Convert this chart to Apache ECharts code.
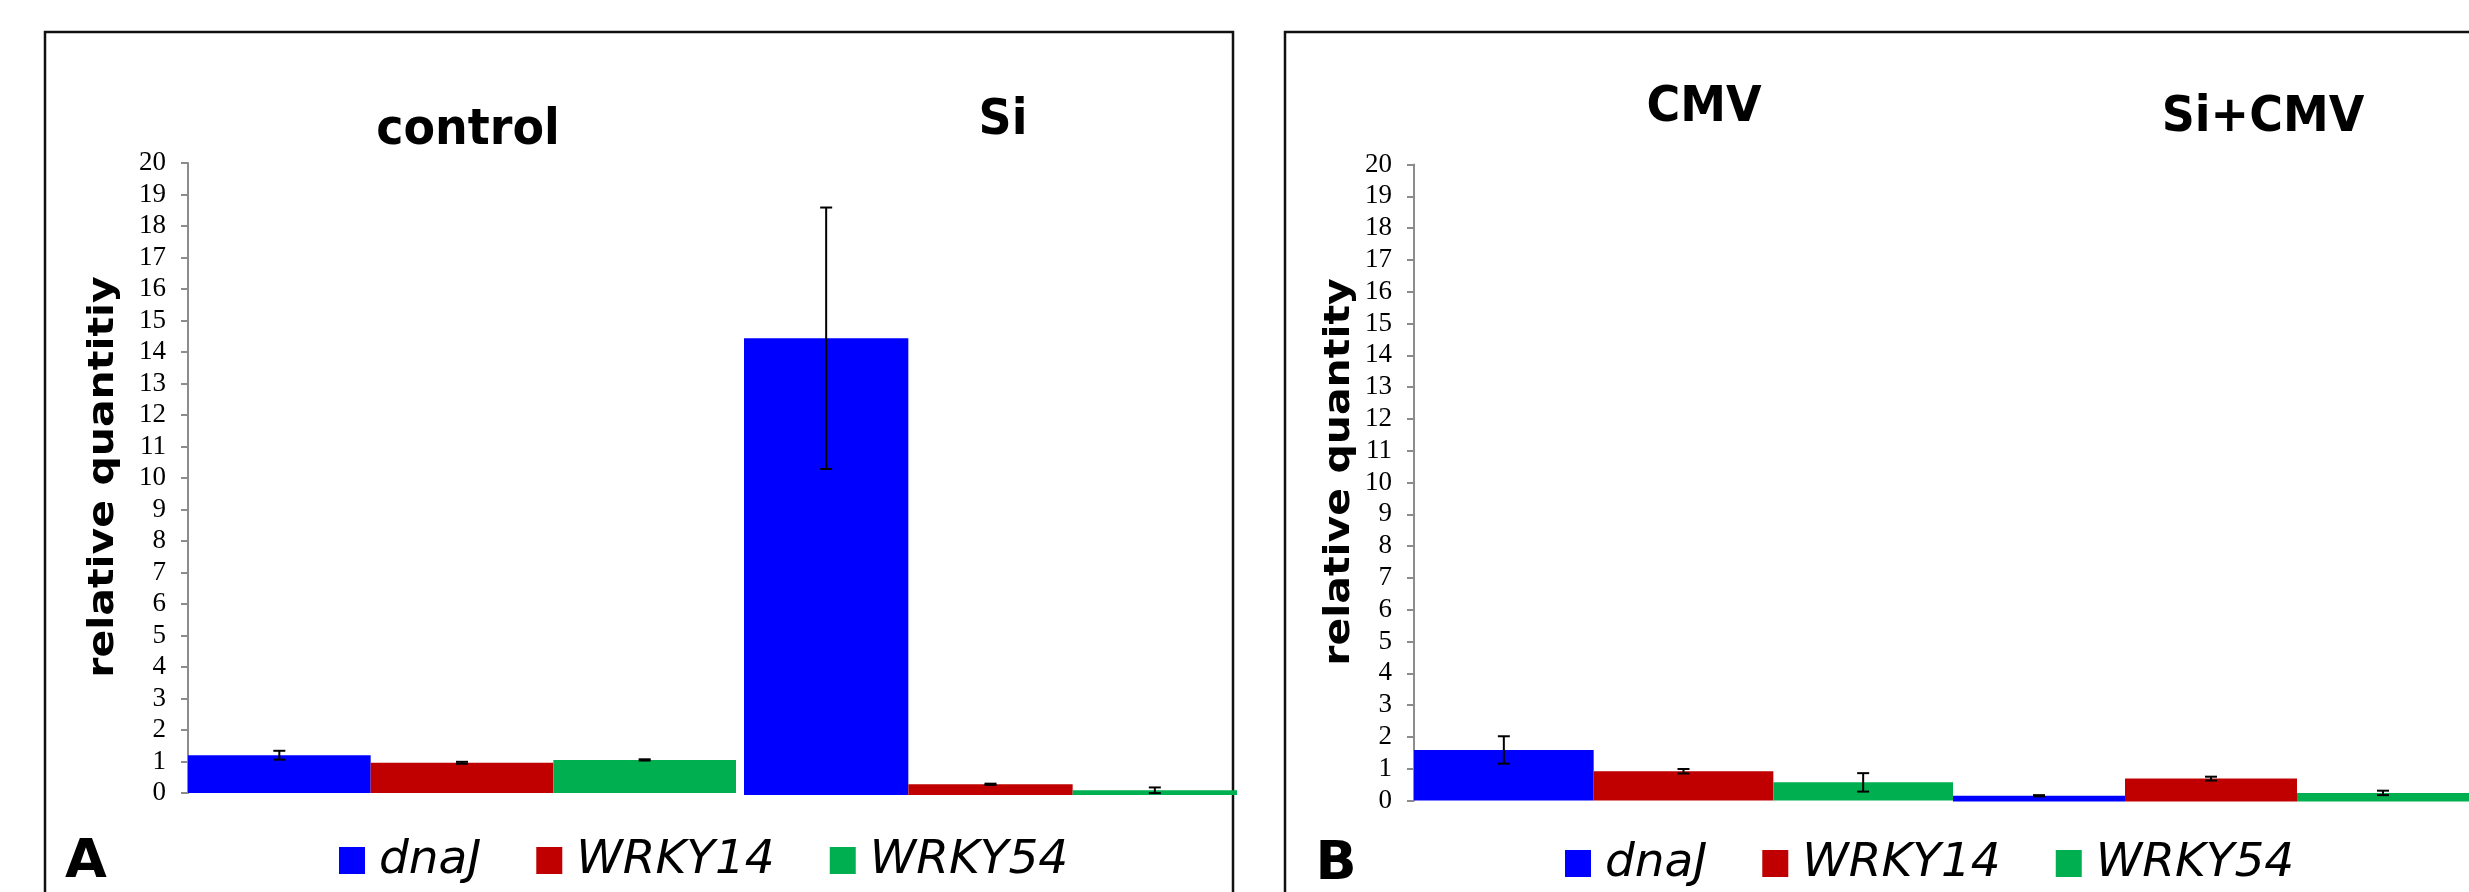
<!DOCTYPE html>
<html>
<head>
<meta charset="utf-8">
<script src="https://cdn.jsdelivr.net/npm/echarts@6/dist/echarts.min.js"></script>
<style>
html,body{margin:0;padding:0;background:#fff;}
#c{width:2469px;height:892px;}
</style>
</head>
<body>
<div id="c"></div>
<script>
// ---------- DATA ----------
const groupsA = ['control', 'Si'];
const groupsB = ['CMV', 'Si+CMV'];
const genes = ['dnaJ', 'WRKY14', 'WRKY54'];
const yTitles = ['relative quantitiy', 'relative quantity'];
const panelLetters = ['A', 'B'];

// panel A (control, Si)
const dnaJ_A = [1.2, 14.5];
const dnaJ_A_err = [0.14, 4.15];
const wrky14_A = [0.96, 0.34];
const wrky14_A_err = [0.03, 0.02];
const wrky54_A = [1.05, 0.15];
const wrky54_A_err = [0.02, 0.09];
// panel B (CMV, Si+CMV)
const dnaJ_B = [1.59, 0.18];
const dnaJ_B_err = [0.43, 0.02];
const wrky14_B = [0.92, 0.72];
const wrky14_B_err = [0.07, 0.06];
const wrky54_B = [0.57, 0.27];
const wrky54_B_err = [0.29, 0.07];

const yMin = 0, yMax = 20, yStep = 1;

// ---------- LAYOUT / STYLE ----------
const geneColors = ['#0000FF', '#C00000', '#00B050'];
const panels = [
  { groups: groupsA, means: [dnaJ_A, wrky14_A, wrky54_A], errs: [dnaJ_A_err, wrky14_A_err, wrky54_A_err],
    boxes: [{left:188, width:548, top:163, height:630}, {left:744, width:493, top:165, height:630}],
    titlePos: [[468, 131], [1003, 121]], yTitlePos: [104, 477], letterPos: [86, 863],
    frame: {x:45, y:32, width:1188, height:900}, legendLeft: 339, legendTop: 837 },
  { groups: groupsB, means: [dnaJ_B, wrky14_B, wrky54_B], errs: [dnaJ_B_err, wrky14_B_err, wrky54_B_err],
    boxes: [{left:1414, width:539, top:164.5, height:636}, {left:1953, width:534, top:165.5, height:636}],
    titlePos: [[1704, 108], [2263, 118]], yTitlePos: [1340, 472], letterPos: [1336, 865],
    frame: {x:1285, y:32, width:1300, height:900}, legendLeft: 1565, legendTop: 840 }
];

const grid = [], xAxis = [], yAxis = [], series = [], graphic = [], legend = [];
const axisGray = '#8c8c8c';

panels.forEach((p, pi) => {
  graphic.push({ type: 'rect', z: 0, shape: p.frame, style: { fill: 'none', stroke: '#111', lineWidth: 2.5 } });
  graphic.push({ type: 'text', x: p.yTitlePos[0], y: p.yTitlePos[1], rotation: Math.PI / 2, scaleY: 0.85,
    style: { text: yTitles[pi], fontFamily: 'DejaVu Sans', fontWeight: 'bold', fontSize: 41, fill: '#000',
      align: 'center', verticalAlign: 'middle', textAlign: 'center', textVerticalAlign: 'middle' } });
  graphic.push({ type: 'text', x: p.letterPos[0], y: p.letterPos[1],
    style: { text: panelLetters[pi], fontFamily: 'DejaVu Sans', fontWeight: 'bold', fontSize: 54, fill: '#000',
      align: 'center', verticalAlign: 'middle', textAlign: 'center', textVerticalAlign: 'middle' } });

  p.groups.forEach((g, gi) => {
    const idx = grid.length;
    grid.push(Object.assign({ containLabel: false }, p.boxes[gi]));
    xAxis.push({ type: 'category', gridIndex: idx, data: [g], show: false });
    const showY = gi === 0;
    yAxis.push({
      type: 'value', gridIndex: idx, min: yMin, max: yMax, interval: yStep, show: showY,
      axisLine: { show: true, lineStyle: { color: axisGray, width: 2 } },
      axisTick: { show: true, length: 7, lineStyle: { color: axisGray, width: 2 } },
      axisLabel: { fontFamily: 'Liberation Serif', fontSize: 27, color: '#000', margin: 22 },
      splitLine: { show: false }
    });
    graphic.push({ type: 'text', x: p.titlePos[gi][0], y: p.titlePos[gi][1], scaleY: 1.1,
      style: { text: g, fontFamily: 'DejaVu Sans', fontWeight: 'bold', fontSize: 46, fill: '#000',
        align: 'center', verticalAlign: 'middle', textAlign: 'center', textVerticalAlign: 'middle' } });

    genes.forEach((gene, k) => {
      series.push({
        type: 'bar', name: gene, xAxisIndex: idx, yAxisIndex: idx,
        data: [p.means[k][gi]], barGap: '0%', barCategoryGap: '0%',
        itemStyle: { color: geneColors[k] }, z: 2, animation: false
      });
    });
    series.push({
      type: 'custom', name: 'err' + idx, xAxisIndex: idx, yAxisIndex: idx, z: 5, animation: false,
      data: genes.map((gene, k) => [0, p.means[k][gi], p.errs[k][gi], k]),
      encode: { x: 0, y: 1 },
      renderItem: function (params, api) {
        const k = api.value(3), m = api.value(1), e = api.value(2);
        const band = api.size([1, 0])[0];
        const c = api.coord([0, m]);
        const x = c[0] + (k - 1) * band / 3;
        const yHi = api.coord([0, m + e])[1];
        const yLo = api.coord([0, m - e])[1];
        const cap = 6;
        const st = { stroke: '#000', lineWidth: 2 };
        return { type: 'group', children: [
          { type: 'line', shape: { x1: x, y1: yHi, x2: x, y2: yLo }, style: st },
          { type: 'line', shape: { x1: x - cap, y1: yHi, x2: x + cap, y2: yHi }, style: st },
          { type: 'line', shape: { x1: x - cap, y1: yLo, x2: x + cap, y2: yLo }, style: st }
        ] };
      }
    });
  });

  legend.push({
    data: genes, left: p.legendLeft, top: p.legendTop, orient: 'horizontal', padding: 0,
    icon: 'rect', itemWidth: 26, itemHeight: 27, itemGap: 55, selectedMode: false,
    textStyle: { fontFamily: 'DejaVu Sans', fontStyle: 'italic', fontSize: 47, color: '#000', padding: [0, 0, 0, 9] }
  });
});

const chart = echarts.init(document.getElementById('c'), null, { renderer: 'canvas' });
chart.setOption({
  backgroundColor: '#fff',
  animation: false,
  grid, xAxis, yAxis, series, legend, graphic
});
</script>
</body>
</html>
